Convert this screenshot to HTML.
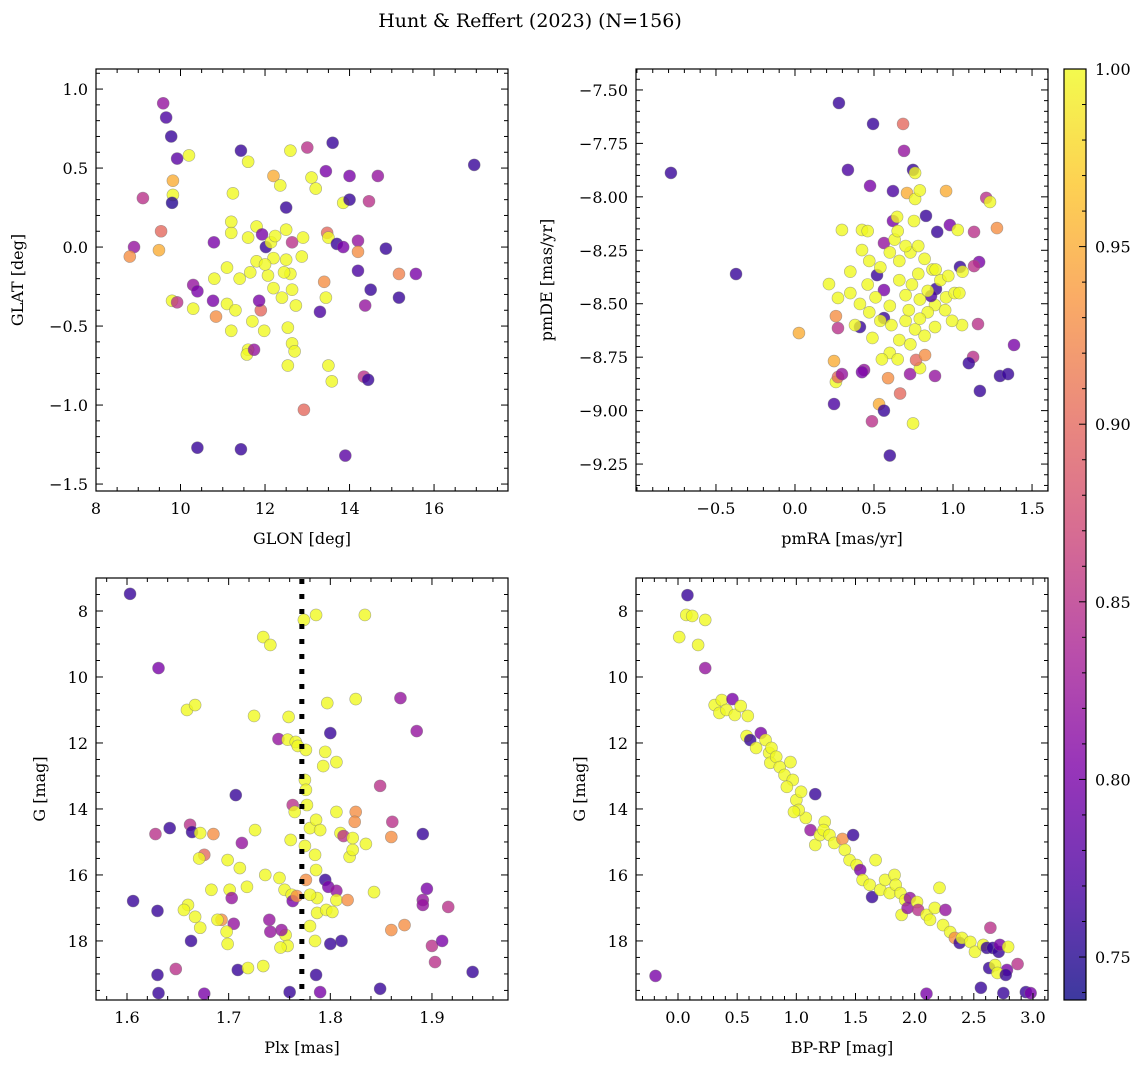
<!DOCTYPE html>
<html><head><meta charset="utf-8">
<style>
html,body{margin:0;padding:0;background:#fff;}
svg{display:block;font-family:"DejaVu Serif","Liberation Serif",serif;}
</style></head>
<body>
<svg id="chart" width="1148" height="1068" viewBox="0 0 1148 1068" xmlns="http://www.w3.org/2000/svg">
<defs>
<linearGradient id="plasma" x1="0" y1="1" x2="0" y2="0">
<stop offset="0" stop-color="#0d0887"/><stop offset="0.125" stop-color="#4c02a1"/><stop offset="0.25" stop-color="#7e03a8"/><stop offset="0.375" stop-color="#a92395"/><stop offset="0.5" stop-color="#cc4778"/><stop offset="0.625" stop-color="#e56b5d"/><stop offset="0.75" stop-color="#f89540"/><stop offset="0.875" stop-color="#fdc527"/><stop offset="1" stop-color="#f0f921"/>
</linearGradient>
</defs>
<text x="530" y="27" text-anchor="middle" font-size="19">Hunt &amp; Reffert (2023) (N=156)</text>
</svg>
<script>
// ---- Data: panel 1 (GLON / GLAT)
const glon=[9.59,9.66,9.78,9.92,10.2,9.82,9.82,9.80,9.11,8.9,8.8,9.54,9.49,9.8,9.92,10.3,10.3,10.4,10.4,11.43,11.43,11.6,11.24,10.79,10.8,10.77,10.84,11.2,11.2,11.1,11.1,11.2,11.3,11.4,11.65,11.8,11.8,11.6,11.6,11.57,11.74,11.7,11.9,11.86,11.93,12.02,12.14,12.24,12.2,12.07,12.2,12.4,12.2,12.36,12.5,12.6,12.5,12.64,12.5,12.6,12.64,12.45,12.54,12.64,12.7,12.54,12.73,12.87,12.9,13.1,13.2,13.0,12.92,13.3,13.4,13.44,13.47,13.5,13.44,13.6,13.7,13.85,13.5,13.58,13.85,14.0,14.0,13.9,14.2,14.2,14.2,14.37,14.34,14.44,14.5,14.46,14.67,14.86,15.17,15.17,15.57,16.95,11.98,12.0];
const glat=[0.91,0.82,0.70,0.56,0.58,0.42,0.33,0.28,0.31,0.0,-0.06,0.10,-0.02,-0.34,-0.35,-0.39,-0.24,-0.28,-1.27,-1.28,0.61,0.54,0.34,0.03,-0.2,-0.34,-0.44,0.09,0.16,-0.13,-0.36,-0.53,-0.4,-0.2,-0.16,-0.09,0.13,0.06,-0.65,-0.68,-0.65,-0.47,-0.4,-0.34,0.08,0,0.03,0.07,-0.07,-0.18,-0.26,-0.32,0.45,0.39,0.25,0.61,0.11,0.03,-0.08,-0.17,-0.27,-0.16,-0.51,-0.61,-0.66,-0.75,-0.37,-0.06,0.06,0.44,0.37,0.63,-1.03,-0.41,-0.22,-0.32,0.09,0.06,0.48,0.66,0.02,0.0,-0.75,-0.85,0.28,0.3,0.45,-1.32,0.04,-0.15,-0.03,-0.37,-0.82,-0.84,-0.27,0.29,0.45,-0.01,-0.17,-0.32,-0.17,0.52,-0.53,-0.11];
const prob1=[.82,.77,.76,.78,1,.95,1,.75,.85,.82,.93,.9,.95,1,.85,1,.82,.8,.76,.76,.76,1,1,.8,1,.8,.93,1,1,1,1,1,1,1,1,1,1,1,1,1,.82,1,.9,.8,.8,.76,1,1,1,1,1,1,.95,1,.76,1,1,.85,1,1,1,1,1,1,1,1,1,1,1,1,1,.85,.9,.77,.93,1,.9,1,.8,.76,.76,.8,1,1,1,.76,.8,.78,.82,.77,.93,.82,.85,.76,.76,.85,.82,.76,.92,.76,.8,.76,1,1];
// ---- Data: panel 2 (pmRA / pmDE)
const pmra=[-0.785,-0.373,0.025,0.278,0.335,0.494,0.684,0.69,0.747,0.76,0.475,0.709,0.62,0.956,1.21,1.234,0.297,0.424,0.62,0.646,0.753,0.829,0.9,0.98,1.03,1.133,1.278,1.165,1.044,1.133,0.215,0.272,0.411,0.424,0.563,0.519,0.563,0.563,0.411,0.259,0.272,0.247,0.259,0.272,0.297,0.247,0.437,0.424,0.532,0.563,0.487,0.6,0.665,0.747,0.589,0.728,0.886,0.791,0.766,0.823,0.886,1.057,0.994,1.158,1.127,1.1,1.17,1.297,1.348,1.386,0.892,0.956,0.886,0.861,
0.47,0.54,0.60,0.63,0.66,0.73,0.78,0.82,0.87,0.92,0.97,1.01,0.46,0.51,0.60,0.66,0.70,0.74,0.79,0.84,0.89,0.54,0.61,0.70,0.76,0.82,0.66,0.73,0.60,0.79,0.47,0.35,0.38,0.49,0.55,0.65,0.72,0.78,0.84,0.95,1.04,1.06,0.76,0.79,0.70,0.65,0.35,0.46];
const pmde=[-7.888,-8.361,-8.637,-7.561,-7.874,-7.659,-7.659,-7.785,-7.874,-7.888,-7.949,-7.982,-7.973,-7.973,-8.005,-8.024,-8.155,-8.155,-8.113,-8.094,-8.113,-8.089,-8.164,-8.132,-8.155,-8.164,-8.146,-8.305,-8.328,-8.324,-8.408,-8.473,-8.501,-8.249,-8.216,-8.366,-8.436,-8.567,-8.609,-8.558,-8.614,-8.768,-8.866,-8.843,-8.829,-8.969,-8.81,-8.82,-8.97,-9.0,-9.05,-9.21,-8.92,-9.06,-8.848,-8.829,-8.838,-8.801,-8.763,-8.74,-8.609,-8.6,-8.58,-8.595,-8.749,-8.778,-8.908,-8.838,-8.829,-8.693,-8.431,-8.47,-8.506,-8.464,
-8.30,-8.33,-8.26,-8.20,-8.30,-8.26,-8.23,-8.29,-8.34,-8.39,-8.37,-8.45,-8.41,-8.47,-8.51,-8.39,-8.46,-8.41,-8.48,-8.54,-8.34,-8.58,-8.60,-8.58,-8.62,-8.65,-8.67,-8.69,-8.73,-8.57,-8.54,-8.45,-8.60,-8.66,-8.76,-8.76,-8.53,-8.36,-8.44,-8.53,-8.45,-8.35,-8.01,-7.97,-8.23,-8.16,-8.35,-8.16];
const prob2=[.76,.76,.95,.76,.77,.76,.9,.82,.76,1,.8,.95,.77,.95,.85,1,1,1,.8,1,1,.76,.76,.8,1,.85,.93,.8,.76,.85,1,1,1,1,.82,.76,.8,.76,.76,.93,.85,.95,1,.9,.82,.77,.82,.8,.95,.76,.85,.76,.9,1,.93,.82,.82,1,.9,.93,1,1,1,.85,.85,.76,.76,.76,.76,.8,.76,1,1,.77,
1,1,1,1,1,1,1,1,1,1,1,1,1,1,1,1,1,1,1,1,1,1,1,1,1,1,1,1,1,1,1,1,1,1,1,1,1,1,1,1,1,1,1,1,1,1,1,1];
// ---- Data: panel 3 (Plx / G)
const plx=[1.603,1.631,1.606,1.630,1.630,1.631,1.628,1.642,1.648,1.662,1.664,1.663,1.676,1.676,1.685,1.672,1.659,1.667,1.734,1.741,1.707,1.713,1.705,1.709,1.699,1.719,1.734,1.699,1.711,1.701,1.718,1.726,1.703,1.693,1.689,1.698,1.683,1.667,1.66,1.672,1.656,1.671,1.725,1.749,1.74,1.741,1.736,1.75,1.755,1.762,1.756,1.758,1.751,1.752,1.763,1.767,1.758,1.766,1.768,1.759,1.763,1.765,1.761,1.76,1.774,1.786,1.776,1.775,1.776,1.777,1.775,1.776,1.78,1.786,1.79,1.785,1.786,1.787,1.787,1.78,1.78,1.785,1.786,1.79,1.793,1.795,1.8,1.797,1.806,1.806,1.81,1.813,1.795,1.798,1.806,1.806,1.796,1.802,1.811,1.8,1.819,1.822,1.822,1.825,1.824,1.825,1.834,1.817,1.835,1.843,1.849,1.849,1.861,1.86,1.86,1.873,1.869,1.885,1.891,1.895,1.891,1.891,1.9,1.903,1.91,1.916,1.94];
const gmag3=[7.48,9.73,16.79,17.09,19.03,19.58,14.76,14.58,18.85,14.48,14.7,18.0,19.6,15.39,14.76,14.73,11.0,10.85,8.79,9.03,13.58,15.03,17.48,18.88,18.09,18.82,18.76,15.55,15.79,16.45,16.36,14.64,16.7,17.36,17.36,17.72,16.45,17.27,16.91,17.6,17.06,15.5,11.18,11.88,17.36,17.72,16.0,16.09,16.45,16.6,17.82,18.15,18.2,17.67,16.79,16.64,11.9,11.97,12.09,11.21,13.88,14.09,14.94,19.55,8.27,8.12,12.21,13.12,13.42,13.88,15.12,16.15,14.58,14.33,14.64,15.39,15.85,16.7,17.15,16.6,17.55,18.0,19.03,19.55,12.7,12.27,11.7,10.79,12.58,14.09,14.73,14.82,16.15,16.36,16.48,16.76,17.06,17.12,18.0,18.09,15.45,15.24,14.88,14.09,14.39,10.67,8.12,16.76,15.06,16.52,13.3,19.45,14.39,14.85,17.67,17.52,10.64,11.64,14.76,16.42,16.76,16.91,18.15,18.64,18.0,16.97,18.94];
const prob3=[.76,.8,.76,.76,.76,.76,.85,.76,.85,.85,.76,.76,.8,.9,.93,1,1,1,1,1,.76,.82,.82,.76,1,1,1,1,1,1,1,1,.82,.93,1,1,1,1,1,1,1,1,1,.82,.82,.82,1,1,1,1,1,1,1,.82,.8,.93,1,1,1,1,.85,1,1,.76,1,1,1,1,1,1,1,.93,1,1,1,1,1,1,1,1,1,1,.76,.8,1,1,.76,1,1,1,1,.85,.76,.8,.82,1,1,1,.76,.76,1,1,1,.93,.93,1,1,.93,1,1,.85,.76,.85,.93,.93,.93,.82,.82,.76,.8,.82,.82,.85,.85,.8,.85,.76];
const plxLine=1.772;
// ---- Data: panel 4 (BP-RP / G)
const bprp=[0.08,0.07,0.12,0.01,0.23,0.17,0.23,0.31,0.35,0.37,0.41,0.46,0.48,0.53,0.59,0.58,0.61,0.66,0.7,0.74,0.77,0.79,0.78,0.83,0.86,0.9,0.95,0.97,0.92,1.0,1.04,1.08,1.02,0.98,1.16,1.12,1.16,1.2,1.24,1.23,1.28,1.32,1.39,1.41,1.45,1.48,1.51,1.54,1.56,1.62,1.67,1.64,1.71,1.75,1.79,1.83,1.84,1.88,1.92,1.89,1.94,1.96,2.02,2.03,2.1,2.1,2.13,2.17,2.21,2.26,2.24,2.3,2.34,2.38,2.4,2.47,2.51,2.58,2.61,2.63,2.64,2.66,2.68,2.71,2.72,2.78,2.79,2.87,2.56,2.75,2.94,2.98,-0.19,2.7,2.77];
const gmag4=[7.52,8.12,8.15,8.79,8.27,9.03,9.73,10.85,11.09,10.7,11.0,10.67,11.15,10.88,11.18,11.79,11.91,12.15,11.7,11.91,12.3,12.15,12.6,12.42,12.73,12.97,12.58,13.12,13.33,13.73,13.48,14.27,14.03,14.09,13.55,14.64,15.09,14.79,14.39,14.64,14.79,15.03,14.91,15.24,15.55,14.79,15.7,15.85,16.15,16.3,15.55,16.67,16.45,16.15,16.55,16.0,16.3,16.55,16.76,17.21,17.0,16.7,16.82,17.06,19.6,17.21,17.36,17.0,16.39,17.06,17.52,17.73,17.91,18.06,17.91,18.03,18.33,18.12,18.21,18.82,17.6,18.21,18.73,18.33,18.12,18.88,18.18,18.7,19.42,19.58,19.55,19.58,19.06,18.97,19.03];
const prob4=[.76,1,1,1,1,1,.82,1,1,1,1,.8,1,1,1,1,.76,1,.8,1,1,1,1,1,1,1,1,1,1,1,1,1,1,1,.76,.82,1,1,1,1,1,1,.93,1,1,.76,1,.8,1,1,1,.76,1,1,1,1,1,1,1,1,.82,.82,1,.85,.8,1,1,1,1,.82,1,1,.93,.76,1,1,1,1,.76,.76,.85,.76,1,.76,.8,.8,1,.85,.76,.76,.76,.8,.8,1,.76];
// ---- Tick labels
const ticks1x=[8,10,12,14,16], ticks1y=[-1.5,-1.0,-0.5,0.0,0.5,1.0];
const ticks2x=[-0.5,0.0,0.5,1.0,1.5], ticks2y=[-9.25,-9.00,-8.75,-8.50,-8.25,-8.00,-7.75,-7.50];
const ticks3x=[1.6,1.7,1.8,1.9], ticksG=[8,10,12,14,16,18];
const ticks4x=[0.0,0.5,1.0,1.5,2.0,2.5,3.0];
const ticksCb=[0.75,0.80,0.85,0.90,0.95,1.00];
const pMin=0.7379, pMax=1.0;

const NS='http://www.w3.org/2000/svg';
const svg=document.getElementById('chart');
const FS=16;
function mk(tag,attrs,parent){const e=document.createElementNS(NS,tag);for(const k in attrs)e.setAttribute(k,attrs[k]);(parent||svg).appendChild(e);return e;}
const stops=[[0,[13,8,135]],[0.125,[76,2,161]],[0.25,[126,3,168]],[0.375,[169,35,149]],[0.5,[204,71,120]],[0.625,[229,107,93]],[0.75,[248,149,64]],[0.875,[253,197,39]],[1,[240,249,33]]];
function cmap(p){let t=(p-pMin)/(pMax-pMin);t=Math.max(0,Math.min(1,t));for(let i=1;i<stops.length;i++){if(t<=stops[i][0]){const a=stops[i-1],b=stops[i];const f=(t-a[0])/(b[0]-a[0]);const c=a[1].map((v,j)=>Math.round(v+(b[1][j]-v)*f));return 'rgb('+c.join(',')+')';}}return 'rgb(240,249,33)';}
function fmt(v,d){return v.toFixed(d).replace('-','\u2212');}

function panel(cfg){
  const {name,x0,y0,w,h,xmin,xmax,ymin,ymax,invY,xs,ys,ps,xt,yt,xd,yd,xminor,yminor,xlabel,ylabel,ylx}=cfg;
  const g=mk('g',{});
  
  
  const sx=v=>x0+(v-xmin)/(xmax-xmin)*w;
  const sy=v=>invY? y0+(v-ymin)/(ymax-ymin)*h : y0+h-(v-ymin)/(ymax-ymin)*h;
  const clip='clip-'+name;
  const cp=mk('clipPath',{id:clip},g);mk('rect',{x:x0,y:y0,width:w,height:h},cp);
  const pts=mk('g',{'clip-path':'url(#'+clip+')'},g);
  
  
  for(let i=0;i<xs.length;i++){
    const c=mk('circle',{cx:sx(xs[i]),cy:sy(ys[i]),r:6,fill:cmap(ps[i]),'fill-opacity':0.8,stroke:'#777','stroke-opacity':0.6,'stroke-width':0.6},pts);
    
    
  }
  if(cfg.vline!==undefined){
    const l=mk('line',{x1:sx(cfg.vline),x2:sx(cfg.vline),y1:y0+1,y2:y0+h,stroke:'#000','stroke-width':5,'stroke-dasharray':'5 10'},g);
    
    
  }
  mk('rect',{x:x0,y:y0,width:w,height:h,fill:'none',stroke:'#000','stroke-width':1.2},g);
  const xmn=Math.ceil(xmin/xminor-1e-6);
  for(let k=xmn;k*xminor<=xmax+1e-9;k++){const v=k*xminor;const X=sx(v);
    const major=xt.some(t=>Math.abs(t-v)<1e-6);const L=major?7:4;
    mk('line',{x1:X,x2:X,y1:y0+h,y2:y0+h-L,stroke:'#000','stroke-width':1},g);
    mk('line',{x1:X,x2:X,y1:y0,y2:y0+L,stroke:'#000','stroke-width':1},g);}
  xt.forEach(v=>{const t=mk('text',{x:sx(v),y:y0+h+23,'text-anchor':'middle','font-size':FS},g);t.textContent=fmt(v,xd);
    });
  const ymn=Math.ceil(ymin/yminor-1e-6);
  for(let k=ymn;k*yminor<=ymax+1e-9;k++){const v=k*yminor;const Y=sy(v);
    const major=yt.some(t=>Math.abs(t-v)<1e-6);const L=major?7:4;
    mk('line',{x1:x0,x2:x0+L,y1:Y,y2:Y,stroke:'#000','stroke-width':1},g);
    mk('line',{x1:x0+w,x2:x0+w-L,y1:Y,y2:Y,stroke:'#000','stroke-width':1},g);}
  yt.forEach(v=>{const t=mk('text',{x:x0-8,y:sy(v)+6,'text-anchor':'end','font-size':FS},g);t.textContent=fmt(v,yd);
    });
  const xl=mk('text',{x:x0+w/2,y:y0+h+53,'text-anchor':'middle','font-size':FS},g);xl.textContent=xlabel;
  
  const yc=y0+h/2;
  const yl=mk('text',{x:ylx,y:yc,'text-anchor':'middle','font-size':FS,transform:'rotate(-90 '+ylx+' '+yc+')'},g);yl.textContent=ylabel;
  
}
panel({name:'glon-glat-panel',x0:96,y0:69,w:412,h:422,xmin:8,xmax:17.75,ymin:-1.544,ymax:1.127,xs:glon,ys:glat,ps:prob1,xt:ticks1x,yt:ticks1y,xd:0,yd:1,xminor:0.5,yminor:0.1,xlabel:'GLON [deg]',ylabel:'GLAT [deg]',ylx:23});
panel({name:'proper-motion-panel',x0:636,y0:69,w:412,h:422,xmin:-1.006,xmax:1.601,ymin:-9.376,ymax:-7.402,xs:pmra,ys:pmde,ps:prob2,xt:ticks2x,yt:ticks2y,xd:1,yd:2,xminor:0.1,yminor:0.05,xlabel:'pmRA [mas/yr]',ylabel:'pmDE [mas/yr]',ylx:552});
panel({name:'parallax-panel',x0:96,y0:578,w:412,h:422,xmin:1.5695,xmax:1.9748,ymin:7.0,ymax:19.79,invY:true,xs:plx,ys:gmag3,ps:prob3,xt:ticks3x,yt:ticksG,xd:1,yd:0,xminor:0.02,yminor:0.5,xlabel:'Plx [mas]',ylabel:'G [mag]',ylx:45,vline:plxLine});
panel({name:'cmd-panel',x0:636,y0:578,w:412,h:422,xmin:-0.355,xmax:3.127,ymin:7.0,ymax:19.79,invY:true,xs:bprp,ys:gmag4,ps:prob4,xt:ticks4x,yt:ticksG,xd:1,yd:0,xminor:0.1,yminor:0.5,xlabel:'BP-RP [mag]',ylabel:'G [mag]',ylx:585});
(function(){
  const g=mk('g',{});
  
  
  const x0=1064,y0=69,w=22,h=931;
  const sy=v=>y0+h-(v-pMin)/(pMax-pMin)*h;
  mk('rect',{x:x0,y:y0,width:w,height:h,fill:'url(#plasma)','fill-opacity':0.8},g);
  mk('rect',{x:x0,y:y0,width:w,height:h,fill:'none',stroke:'#000','stroke-width':1.2},g);
  for(let k=Math.ceil(pMin/0.01);k<=100;k++){const v=k*0.01;const major=ticksCb.some(t=>Math.abs(t-v)<1e-6);
    mk('line',{x1:x0+w,x2:x0+w-(major?7:4),y1:sy(v),y2:sy(v),stroke:'#000','stroke-width':1},g);}
  ticksCb.forEach(v=>{const t=mk('text',{x:x0+w+9,y:sy(v)+6,'font-size':FS},g);t.textContent=v.toFixed(2);
    });
})();
</script>
</body></html>
